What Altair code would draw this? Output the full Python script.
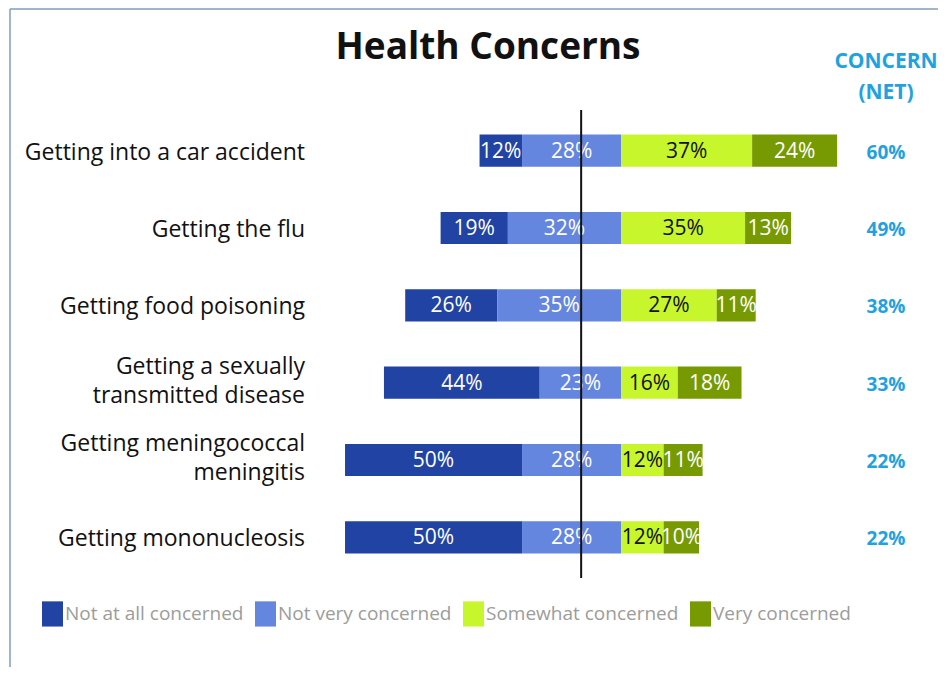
import altair as alt
import pandas as pd

categories = [
    "Getting into a car accident",
    "Getting the flu",
    "Getting food poisoning",
    "Getting a sexually\ntransmitted disease",
    "Getting meningococcal\nmeningitis",
    "Getting mononucleosis",
]
not_at_all = [12, 19, 26, 44, 50, 50]
not_very = [28, 32, 35, 23, 28, 28]
somewhat = [37, 35, 27, 16, 12, 12]
very = [24, 13, 11, 18, 11, 10]
net = [60, 49, 38, 33, 22, 22]

segments = ["Not at all concerned", "Not very concerned", "Somewhat concerned", "Very concerned"]
colors = ["#2143A4", "#6486DF", "#C8F62C", "#779A03"]
ref_line = -11.3
FONT = "Open Sans"

rows = []
for i, c in enumerate(categories):
    a, b, s, v = not_at_all[i], not_very[i], somewhat[i], very[i]
    rows.append(dict(cat=c, segment=segments[0], start=-(a + b), end=-b, pct=a))
    rows.append(dict(cat=c, segment=segments[1], start=-b, end=0, pct=b))
    rows.append(dict(cat=c, segment=segments[2], start=0, end=s, pct=s))
    rows.append(dict(cat=c, segment=segments[3], start=s, end=s + v, pct=v))
df = pd.DataFrame(rows)
df["mid"] = (df["start"] + df["end"]) / 2
df["label"] = df["pct"].astype(str) + "%"

cat_df = pd.DataFrame({"cat": categories, "net": [f"{n}%" for n in net]})

W, H = 930, 659
xscale = alt.Scale(domain=[-173.2, 89.5], nice=False, zero=False)
yscale = alt.Scale(domain=categories, range=[104, 568], paddingInner=0.585, paddingOuter=0.2925)

base = alt.Chart(df)

bars = base.mark_bar().encode(
    x=alt.X("start:Q", scale=xscale, axis=None),
    x2="end:Q",
    y=alt.Y("cat:N", scale=yscale, axis=None, sort=categories),
    color=alt.Color(
        "segment:N",
        scale=alt.Scale(domain=segments, range=colors),
        legend=alt.Legend(
            orient="none", legendX=34, legendY=595, direction="horizontal", columns=4,
            title=None, symbolType="M-1,-1.2H1V1.2H-1Z", symbolSize=441,
            symbolStrokeWidth=0, symbolOpacity=1, labelFont=FONT, labelFontSize=19,
            labelColor="#9c9c9c", labelOffset=2, columnPadding=11, labelLimit=300,
        ),
    ),
)

bar_text = base.mark_text(font=FONT, fontSize=21, baseline="middle", align="center", dy=1).encode(
    x=alt.X("mid:Q", scale=xscale),
    y=alt.Y("cat:N", scale=yscale, sort=categories),
    text="label:N",
    color=alt.condition(alt.datum.segment == "Somewhat concerned", alt.value("#111111"), alt.value("white")),
)

rule = alt.Chart(pd.DataFrame({"x": [ref_line]})).mark_rule(color="#111111", strokeWidth=2).encode(
    x=alt.X("x:Q", scale=xscale), y=alt.value(102), y2=alt.value(570)
)

single_labels = alt.Chart(cat_df).transform_filter(
    "indexof(datum.cat, '\\n') < 0"
).mark_text(
    font=FONT, fontSize=23, align="right", baseline="middle", color="#111111", dy=2
).encode(
    x=alt.value(297),
    y=alt.Y("cat:N", scale=yscale, sort=categories),
    text="cat:N",
)

multi_labels = alt.Chart(cat_df).transform_filter(
    "indexof(datum.cat, '\\n') >= 0"
).mark_text(
    font=FONT, fontSize=23, align="right", baseline="middle", color="#111111",
    lineBreak="\n", lineHeight=29, dy=-16
).encode(
    x=alt.value(297),
    y=alt.Y("cat:N", scale=yscale, sort=categories),
    text="cat:N",
)

net_labels = alt.Chart(cat_df).mark_text(
    font=FONT, fontSize=19, fontWeight="bold", align="center", baseline="middle", color="#1FA2E0", dy=2
).encode(
    x=alt.value(878),
    y=alt.Y("cat:N", scale=yscale, sort=categories),
    text="net:N",
)

header = alt.Chart(pd.DataFrame({"t": ["CONCERN\n(NET)"]})).mark_text(
    font=FONT, fontSize=21, fontWeight="bold", align="center", baseline="middle",
    color="#1FA2E0", lineBreak="\n", lineHeight=31
).encode(x=alt.value(878), y=alt.value(54), text="t:N")

title = alt.Chart(pd.DataFrame({"t": ["Health Concerns"]})).mark_text(
    font=FONT, fontSize=37, fontWeight="bold", align="center", baseline="middle", color="#111111"
).encode(x=alt.value(480), y=alt.value(40), text="t:N")

border_top = alt.Chart(pd.DataFrame({"k": [0]})).mark_rule(color="#7F9CC0", strokeWidth=1.5).encode(
    x=alt.value(2), x2=alt.value(W), y=alt.value(1)
)
border_left = alt.Chart(pd.DataFrame({"k": [0]})).mark_rule(color="#7F9CC0", strokeWidth=1.5).encode(
    x=alt.value(2), y=alt.value(1), y2=alt.value(H)
)

chart = alt.layer(
    border_top, border_left, bars, bar_text, rule, single_labels, multi_labels, net_labels, header, title
).properties(
    width=W, height=H, padding=0, autosize=alt.AutoSizeParams(type="none")
).configure_view(strokeWidth=0)

chart.save("out.html", embed_options={"renderer": "svg", "actions": False})
